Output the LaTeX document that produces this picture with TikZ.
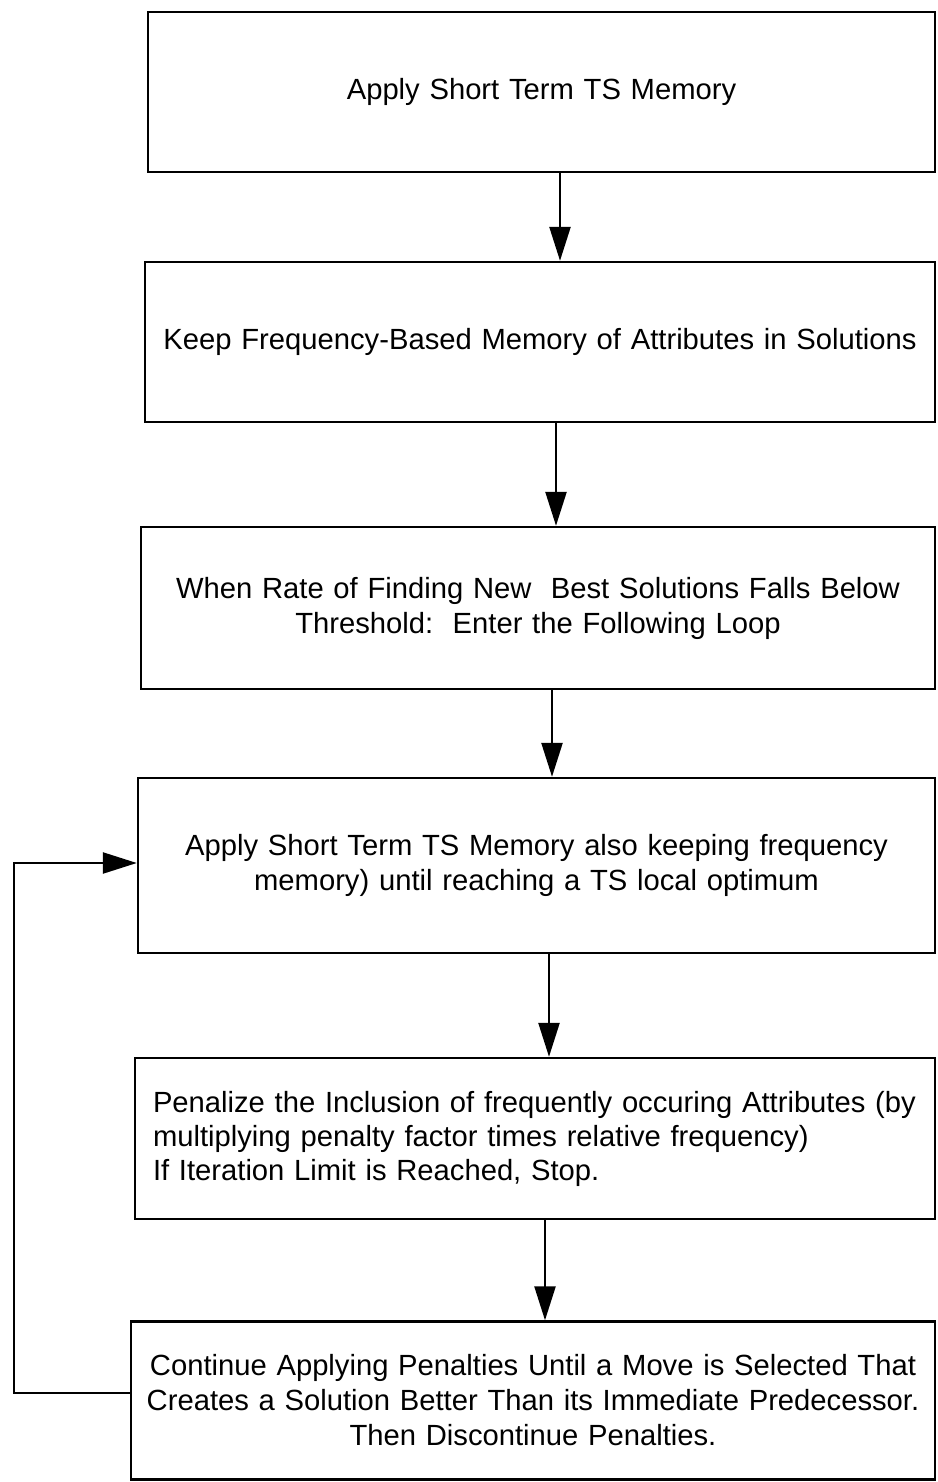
\documentclass[tikz,border=0pt]{standalone}
\usepackage{fontspec}
\setmainfont{Liberation Sans}
\usetikzlibrary{arrows.meta}
\begin{document}
\begin{tikzpicture}[x=1pt,y=-1pt,
  stepbox/.style={draw, line width=2.4pt, rectangle, inner xsep=10pt, inner ysep=0pt,
    align=center, font=\fontsize{29.2}{35}\selectfont},
  flow/.style={line width=2.4pt, -{Triangle[length=34pt,width=21pt]}}]
\useasboundingbox (0,0) rectangle (937,1482);

% process boxes, top to bottom
\node[stepbox, text width=767pt, minimum height=160pt] (b1) at (541.5,92)
  {Apply Short Term TS Memory};
\node[stepbox, text width=770pt, minimum height=160pt] (b2) at (540,342)
  {Keep Frequency-Based Memory of Attributes in Solutions};
\node[stepbox, text width=774pt, minimum height=162pt] (b3) at (538,608)
  {When Rate of Finding New\ \ Best Solutions Falls Below\\Threshold:\ \ Enter the Following Loop};
\node[stepbox, text width=777pt, minimum height=175pt] (b4) at (536.5,865.5)
  {Apply Short Term TS Memory also keeping frequency\\memory) until reaching a TS local optimum};
\node[stepbox, align=left, text width=780pt, minimum height=161pt, font=\fontsize{29.2}{34}\selectfont] (b5) at (535,1138.5)
  {\hspace*{8pt}Penalize the Inclusion of frequently occuring Attributes (by\\
   \hspace*{8pt}multiplying penalty factor times relative frequency)\\
   \hspace*{8pt}If Iteration Limit is Reached, Stop.};
\node[stepbox, text width=784pt, minimum height=158pt] (b6) at (533,1400.5)
  {Continue Applying Penalties Until a Move is Selected That\\Creates a Solution Better Than its Immediate Predecessor.\\Then Discontinue Penalties.};

% arrow start points on the lower edges
\path ([xshift=18.5pt]b1.south) coordinate (s1);
\path ([xshift=16pt]b2.south) coordinate (s2);
\path ([xshift=14pt]b3.south) coordinate (s3);
\path ([xshift=12.5pt]b4.south) coordinate (s4);
\path ([xshift=10pt]b5.south) coordinate (s5);

\draw[flow] (s1) -- (s1 |- b2.north);
\draw[flow] (s2) -- (s2 |- b3.north);
\draw[flow] (s3) -- (s3 |- b4.north);
\draw[flow] (s4) -- (s4 |- b5.north);
\draw[flow] (s5) -- (s5 |- b6.north);

% feedback loop back into the short term memory step
\path ([yshift=7.5pt]b6.west) coordinate (l0);
\coordinate (lc) at (14,863);
\draw[flow] (l0) -| (lc) -- (lc -| b4.west);
\end{tikzpicture}
\end{document}
